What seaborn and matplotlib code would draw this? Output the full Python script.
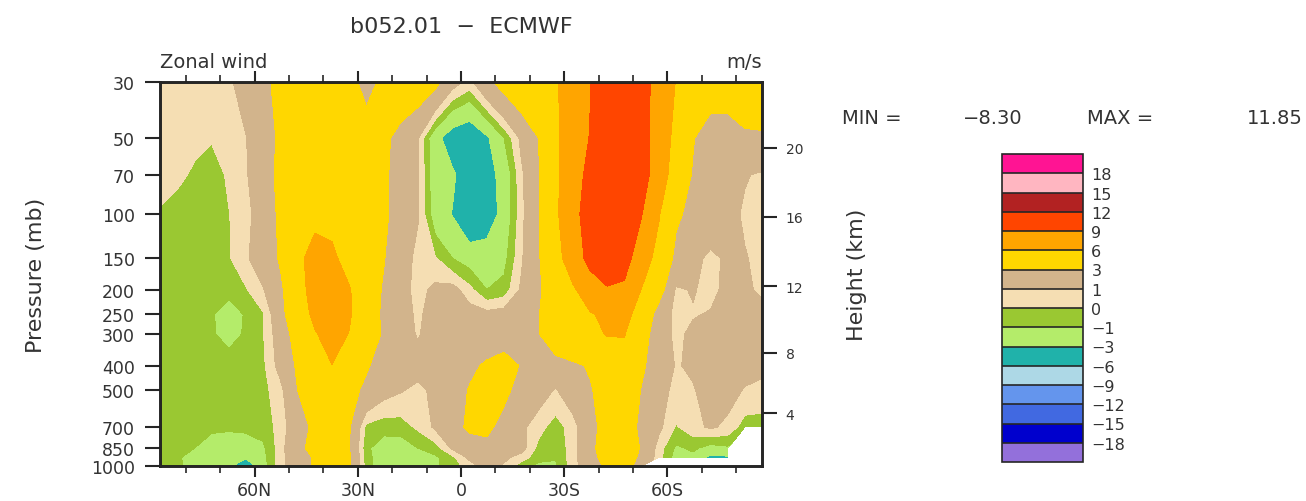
import numpy as np
import matplotlib
matplotlib.use("Agg")
import matplotlib.pyplot as plt
from matplotlib.colors import ListedColormap, BoundaryNorm
from matplotlib.ticker import FixedLocator, NullLocator
import seaborn as sns

# grid: latitude (N -> S) and pressure levels (mb)
lats = [87.5, 82.5, 77.5, 72.5, 67.5, 62.5, 57.5, 52.5, 47.5, 42.5, 37.5, 32.5,
        27.5, 22.5, 17.5, 12.5, 7.5, 2.5, -2.5, -7.5, -12.5, -17.5, -22.5, -27.5,
        -32.5, -37.5, -42.5, -47.5, -52.5, -57.5, -62.5, -67.5, -72.5, -77.5, -82.5, -87.5]
plevs = [30, 50, 70, 100, 150, 200, 250, 300, 400, 500, 700, 850, 925, 1000]
ptick = [30, 50, 70, 100, 150, 200, 250, 300, 400, 500, 700, 850, 1000]

# zonal wind (m/s), one list per pressure level
u_30 = [0.5, 0.5, 0.5, 0.6, 0.8, 1.6, 2.6, 3.5, 4.2, 4.6, 4.5, 3.6,
        2.4, 3.4, 4.2, 4.2, 3.6, 1.6, 0.6, 2.5, 3.8, 4.6, 5.2, 5.8,
        7.0, 8.9, 10.5, 11.2, 10.0, 8.0, 5.9, 5.0, 4.0, 4.0, 4.5, 4.5]
u_50 = [0.5, 0.4, 0.3, 0.1, 0.4, 0.95, 2.2, 3.3, 4.5, 5.0, 5.0, 4.5,
        4.0, 3.4, 2.4, 1.1, -2.2, -4.3, -5.0, -3.3, -1.0, 1.3, 3.0, 5.5,
        7.5, 9.1, 11.0, 11.5, 10.0, 7.8, 5.2, 3.1, 2.0, 2.0, 2.6, 2.7]
u_70 = [0.5, 0.3, -0.2, -0.6, 0.2, 0.85, 2.3, 3.4, 4.5, 5.0, 5.0, 4.6,
        4.0, 3.3, 2.3, 1.1, -2.0, -2.6, -4.6, -4.0, -2.1, 0.7, 2.8, 5.5,
        7.7, 9.8, 11.5, 11.85, 10.2, 7.5, 4.7, 2.8, 2.2, 1.8, 1.1, 0.8]
u_100 = [-0.15, -0.6, -0.8, -0.8, -0.05, 0.75, 1.5, 3.5, 5.0, 5.5, 5.3, 4.6,
         4.0, 3.3, 2.3, 1.1, -1.8, -3.1, -5.2, -4.5, -2.1, 0.6, 2.9, 5.5,
         8.3, 10.0, 11.5, 11.2, 9.1, 6.2, 3.3, 2.5, 2.0, 1.5, 0.8, 0.6]
u_150 = [-0.6, -0.8, -0.9, -0.9, -0.1, 0.8, 1.9, 3.2, 5.5, 6.8, 6.5, 5.0,
         4.0, 3.1, 1.8, 0.6, 0.1, -1.0, -1.55, -1.55, -1.4, 0.8, 2.8, 5.0,
         7.5, 9.8, 11.0, 10.0, 7.5, 5.0, 2.5, 1.4, 0.7, 1.2, 1.1, 0.6]
u_200 = [-0.5, -0.7, -0.8, -0.8, -0.7, -0.1, 0.9, 2.6, 5.0, 7.0, 7.5, 6.2,
         4.2, 2.8, 1.5, 0.6, 1.3, 1.5, 0.3, -1.0, -0.6, 1.2, 2.6, 4.5,
         5.6, 7.5, 8.7, 8.5, 5.9, 4.0, 0.8, 1.1, 0.6, 1.4, 1.2, 0.8]
u_250 = [-0.5, -0.8, -0.9, -0.9, -1.5, -0.9, -0.1, 2.3, 4.8, 6.5, 7.8, 6.3,
         4.0, 2.7, 1.5, 0.8, 1.5, 1.8, 1.6, 1.4, 1.6, 2.4, 2.9, 4.4,
         5.2, 5.8, 6.5, 6.6, 5.2, 2.0, 0.6, 0.9, 1.1, 1.5, 1.6, 1.4]
u_300 = [-0.5, -0.8, -0.9, -0.9, -1.3, -0.9, -0.05, 1.8, 4.0, 5.8, 7.0, 5.9,
         4.0, 2.8, 1.5, 0.9, 1.6, 2.0, 2.2, 2.2, 2.3, 2.6, 2.9, 4.4,
         5.2, 5.5, 6.1, 6.1, 4.0, 1.8, 0.7, 1.3, 1.4, 1.1, 1.3, 1.5]
u_400 = [-0.5, -0.7, -0.8, -0.8, -0.6, -0.5, -0.2, 1.5, 3.3, 5.0, 5.95, 5.0,
         3.2, 2.2, 1.8, 1.5, 1.8, 2.4, 2.7, 3.2, 3.6, 2.9, 2.5, 2.2,
         2.6, 3.2, 4.5, 5.0, 3.3, 2.0, 0.9, 1.2, 2.0, 1.8, 1.5, 1.3]
u_500 = [-0.5, -0.6, -0.7, -0.9, -0.7, -0.6, -0.3, 0.6, 3.0, 4.2, 4.6, 3.6,
         2.6, 1.5, 1.1, 0.7, 1.3, 2.3, 3.1, 4.0, 3.4, 2.4, 1.6, 0.9,
         1.8, 2.8, 4.0, 4.5, 2.9, 1.6, 0.6, 0.9, 1.6, 1.5, 0.9, 0.7]
u_700 = [-0.5, -0.6, -0.7, -0.8, -0.8, -0.7, -0.6, 0.4, 2.0, 3.5, 4.0, 3.2,
         -0.3, -0.6, -0.5, 0.2, 1.2, 2.4, 3.3, 3.4, 2.4, 1.3, 0.4, -0.5,
         0.5, 2.2, 4.0, 4.2, 2.5, 1.3, -0.1, 0.6, 1.2, 0.7, -0.5, -0.5]
u_850 = [-0.6, -0.8, -1.0, -1.5, -1.8, -1.8, -1.2, 0.5, 2.5, 3.6, 3.9, 3.1,
         -0.8, -1.6, -1.7, -1.0, -0.5, 1.2, 2.2, 2.5, 2.0, 1.5, -0.3, -0.8,
         0.5, 2.5, 4.0, 4.5, 2.8, 0.5, -1.2, -0.8, -1.5, -1.2, np.nan, np.nan]
u_925 = [-0.6, -0.9, -1.3, -1.9, -2.3, -2.8, -1.4, 0.6, 2.0, 3.2, 4.0, 3.3,
         -0.6, -1.8, -2.0, -1.6, -1.2, -0.3, 1.3, 2.0, 1.3, 0.5, -0.6, -0.9,
         0.5, 2.3, 3.8, 4.2, 2.5, 0.4, -1.5, -1.3, -3.6, -3.3, np.nan, np.nan]
u_1000 = [-0.6, -0.9, -1.2, -1.8, -2.6, -4.5, -1.5, 0.5, 2.0, 3.2, 4.0, 3.3,
          -0.5, -1.8, -2.0, -1.5, -1.2, -0.5, 0.5, 1.5, 0.8, -0.5, -1.3, -1.2,
          0.5, 2.0, 3.4, 4.0, 2.0, np.nan, np.nan, np.nan, np.nan, np.nan, np.nan, np.nan]

bounds = [-18, -15, -12, -9, -6, -3, -1, 0, 1, 3, 6, 9, 12, 15, 18]
colors = ["#9370db", "#0000cd", "#4169e1", "#6495ed", "#add8e6", "#20b2aa",
          "#b4ec6a", "#9ac832", "#f5deb3", "#d2b48c", "#ffd700", "#ffa500",
          "#ff4500", "#b22222", "#ffb6c1", "#ff1493"]
cbar_labels = ["\u221218", "\u221215", "\u221212", "\u22129", "\u22126", "\u22123",
               "\u22121", "0", "1", "3", "6", "9", "12", "15", "18"]

lat_ticks = [60, 30, 0, -30, -60]
lat_labels = ["60N", "30N", "0", "30S", "60S"]
lat_minor = [80, 70, 50, 40, 20, 10, -10, -20, -40, -50, -70, -80]
height_ticks = [4, 8, 12, 16, 20]

sns.set_style("ticks")
plt.rcParams['font.family'] = ['DejaVu Sans']


def std_pressure(h):
    # standard atmosphere pressure (mb) at height h (km)
    if h <= 11:
        return 1013.25 * (1 - 0.0065 * h * 1000 / 288.15) ** 5.25588
    return 226.32 * np.exp(-(h - 11) * 1000 / 6341.6)


U = np.array([u_30, u_50, u_70, u_100, u_150, u_200, u_250, u_300,
              u_400, u_500, u_700, u_850, u_925, u_1000])
U = np.ma.masked_invalid(U)

cmap = ListedColormap(colors[1:-1])
cmap.set_under(colors[0])
cmap.set_over(colors[-1])
norm = BoundaryNorm(bounds, cmap.N)

W, H = 1306, 502
fig = plt.figure(figsize=(W / 100, H / 100), dpi=100)
fig.patch.set_facecolor("white")
ax = fig.add_axes([160 / W, 1 - 467 / H, 602 / W, 384 / H])

cf = ax.contourf(lats, plevs, U, levels=bounds, cmap=cmap, norm=norm, extend="both")

ax.set_yscale("log")
ax.set_ylim(1000, 30)
ax.set_xlim(87.5, -87.5)
ax.yaxis.set_major_locator(FixedLocator(ptick))
ax.set_yticklabels([str(p) for p in ptick])
ax.yaxis.set_minor_locator(NullLocator())
ax.xaxis.set_major_locator(FixedLocator(lat_ticks))
ax.set_xticklabels(lat_labels)
ax.xaxis.set_minor_locator(FixedLocator(lat_minor))
ax.tick_params(axis="y", which="major", direction="out", length=11, width=1.5,
               labelsize=12.5, labelcolor="#333333", pad=7, right=False)
ax.tick_params(axis="x", which="major", direction="out", length=8, width=1.5,
               labelsize=12.5, labelcolor="#333333", pad=3, top=True, bottom=True)
ax.tick_params(axis="x", which="minor", direction="out", length=5, width=1.2,
               top=True, bottom=True)
for s in ax.spines.values():
    s.set_linewidth(1.8)
    s.set_color("black")

ax2 = ax.twinx()
ax2.set_yscale("log")
ax2.set_ylim(1000, 30)
ax2.yaxis.set_major_locator(FixedLocator([std_pressure(h) for h in height_ticks]))
ax2.set_yticklabels([str(h) for h in height_ticks])
ax2.yaxis.set_minor_locator(NullLocator())
ax2.tick_params(axis="y", direction="out", length=11, width=1.5, labelsize=10,
                labelcolor="#333333", pad=6)
for s in ax2.spines.values():
    s.set_linewidth(1.8)

# colour bar
cax = fig.add_axes([1002 / W, 1 - 463 / H, 81 / W, 308 / H])
cb = fig.colorbar(cf, cax=cax, extend="both", extendrect=True, extendfrac=1 / 14,
                  drawedges=True)
cb.set_ticks(bounds)
cb.set_ticklabels(cbar_labels)
cb.ax.tick_params(length=0, labelsize=11.5, labelcolor="#333333", pad=6)
cb.outline.set_linewidth(1.2)
cb.dividers.set_linewidth(1.2)

# texts
txt = "#333333"
fig.text(461 / W, 1 - 27 / H, "b052.01  \u2212  ECMWF", ha="center", va="center",
         fontsize=16, color=txt)
fig.text(160 / W, 1 - 62 / H, "Zonal wind", ha="left", va="center", fontsize=14, color=txt)
fig.text(762 / W, 1 - 62 / H, "m/s", ha="right", va="center", fontsize=14, color=txt)
fig.text(36 / W, 1 - 275 / H, "Pressure (mb)", rotation=90, ha="center", va="center",
         fontsize=16, color=txt)
fig.text(857 / W, 1 - 275 / H, "Height (km)", rotation=90, ha="center", va="center",
         fontsize=16, color=txt)
fig.text(842 / W, 1 - 118 / H, "MIN =", ha="left", va="center", fontsize=14, color=txt)
fig.text(963 / W, 1 - 118 / H, "\u22128.30", ha="left", va="center", fontsize=14, color=txt)
fig.text(1087 / W, 1 - 118 / H, "MAX =", ha="left", va="center", fontsize=14, color=txt)
fig.text(1303 / W, 1 - 118 / H, "11.85", ha="right", va="center", fontsize=14, color=txt)

fig.savefig("out.png", dpi=100)
